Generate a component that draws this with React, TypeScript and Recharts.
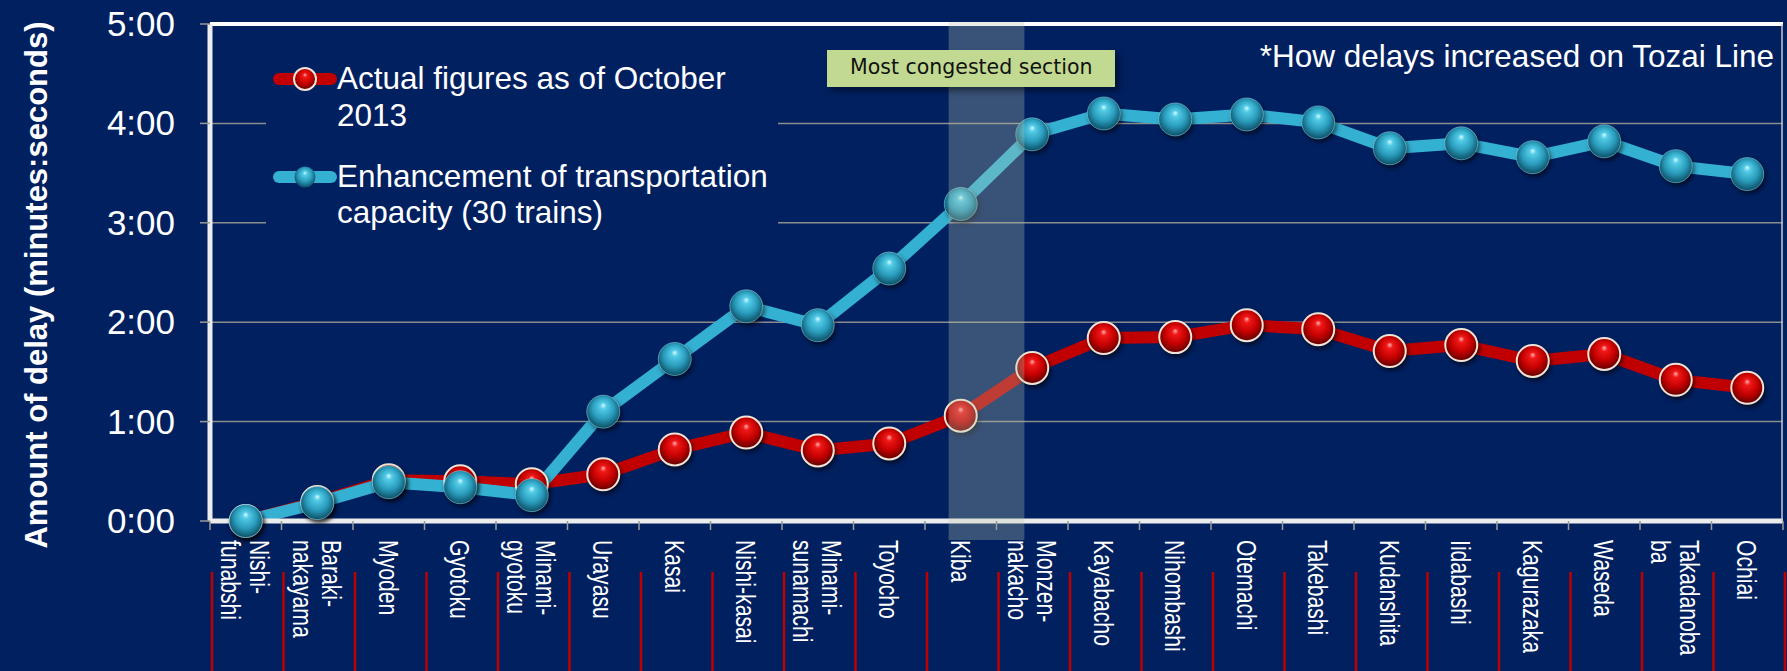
import { ComposedChart, Line, XAxis, YAxis, CartesianGrid, ReferenceArea, ReferenceLine } from "recharts"

const stations = [
  "Nishi-\nfunabshi",
  "Baraki-\nnakayama",
  "Myoden",
  "Gyotoku",
  "Minami-\ngyotoku",
  "Urayasu",
  "Kasai",
  "Nishi-kasai",
  "Minami-\nsunamachi",
  "Toyocho",
  "Kiba",
  "Monzen-\nnakacho",
  "Kayabacho",
  "Nihombashi",
  "Otemachi",
  "Takebashi",
  "Kudanshita",
  "Iidabashi",
  "Kagurazaka",
  "Waseda",
  "Takadanoba\nba",
  "Ochiai",
]

// delay in minutes
const actualDelay = [0, 0.19, 0.41, 0.4, 0.37, 0.47, 0.72, 0.89, 0.71, 0.78, 1.06, 1.54, 1.84, 1.85, 1.97, 1.93, 1.71, 1.77, 1.61, 1.68, 1.42, 1.34]
const enhancedDelay = [0, 0.18, 0.39, 0.34, 0.26, 1.1, 1.63, 2.16, 1.97, 2.54, 3.19, 3.89, 4.1, 4.04, 4.09, 4.01, 3.75, 3.8, 3.66, 3.82, 3.57, 3.49]

const yTicks = [0, 1, 2, 3, 4, 5]
const yTickLabels = ["0:00", "1:00", "2:00", "3:00", "4:00", "5:00"]

const congestedStation = "Kiba"

const data = stations.map((station, i) => ({
  station,
  actual: actualDelay[i],
  enhanced: enhancedDelay[i],
}))

const NAVY = "#002060"
const RED = "#c00000"
const BLUE = "#33b0d2"
const ARIAL = '"Liberation Sans", Arial, sans-serif'

function RedDot(props: any) {
  const { cx, cy, index } = props
  if (cx == null || cy == null) return null
  return (
    <circle
      key={`r-${index}`}
      cx={cx}
      cy={cy}
      r={16}
      fill="url(#redSphere)"
      stroke="#f1e4d6"
      strokeWidth={2}
      style={{ filter: "drop-shadow(2px 3px 2px rgba(0,0,0,0.55))" }}
    />
  )
}

function BlueDot(props: any) {
  const { cx, cy, index } = props
  if (cx == null || cy == null) return null
  return (
    <circle
      key={`b-${index}`}
      cx={cx}
      cy={cy}
      r={16.5}
      fill="url(#blueSphere)"
      stroke="rgba(160,225,240,0.5)"
      strokeWidth={1}
      style={{ filter: "drop-shadow(2px 3px 2px rgba(0,0,0,0.55))" }}
    />
  )
}

function DelayTick(props: any) {
  const { x, y, payload } = props
  const i = yTicks.indexOf(payload.value)
  return (
    <text x={x} y={y + 12} textAnchor="end" fill="#fff" fontSize={35} fontFamily={ARIAL}>
      {yTickLabels[i]}
    </text>
  )
}

function StationTick(props: any) {
  const { x, y, payload, index } = props
  const half = payload.offset || 35.75
  const lines = String(payload.value).split("\n")
  const fs = 27.5
  const capH = fs * 0.716
  const lh = 29
  const y0 = capH / 2 - ((lines.length - 1) * lh) / 2
  const last = index === stations.length - 1
  return (
    <g>
      <line x1={x - half} x2={x - half} y1={y} y2={y + 9} stroke="#9a9a9a" strokeWidth={1.5} />
      {last && <line x1={x + half} x2={x + half} y1={y} y2={y + 9} stroke="#9a9a9a" strokeWidth={1.5} />}
      <line x1={x - half + 2} x2={x - half + 2} y1={y + 51} y2={y + 150} stroke={RED} strokeWidth={2.5} />
      {last && <line x1={x + half + 2} x2={x + half + 2} y1={y + 51} y2={y + 150} stroke={RED} strokeWidth={2.5} />}
      <text
        transform={`translate(${x},${y + 19}) rotate(90) scale(0.77,1)`}
        fill="#fff"
        fontSize={fs}
        fontFamily={ARIAL}
      >
        {lines.map((l, k) => (
          <tspan key={k} x={0} y={y0 + k * lh}>
            {l}
          </tspan>
        ))}
      </text>
    </g>
  )
}

function CongestedBand(p: any) {
  return (
    <rect
      x={p.x + p.width * 0.33}
      y={p.y - 2}
      width={p.width * 1.06}
      height={p.height + 21}
      fill="rgb(190,200,175)"
      fillOpacity={0.3}
    />
  )
}

export default function App() {
  return (
    <div style={{ position: "relative", width: 1787, height: 671, background: NAVY, overflow: "hidden" }}>
      <style>{"body{margin:0}"}</style>
      <svg width={0} height={0} style={{ position: "absolute" }}>
        <defs>
          <radialGradient id="redSphere" cx="50%" cy="45%" r="55%" fx="50%" fy="30%">
            <stop offset="0%" stopColor="#ffb0b0" />
            <stop offset="18%" stopColor="#f01818" />
            <stop offset="60%" stopColor="#c40000" />
            <stop offset="100%" stopColor="#5e0000" />
          </radialGradient>
          <radialGradient id="blueSphere" cx="50%" cy="45%" r="55%" fx="50%" fy="30%">
            <stop offset="0%" stopColor="#d6f8ff" />
            <stop offset="18%" stopColor="#52cbe6" />
            <stop offset="60%" stopColor="#2a9cbc" />
            <stop offset="100%" stopColor="#0c4f66" />
          </radialGradient>
        </defs>
      </svg>
      <ComposedChart width={1787} height={671} data={data} margin={{ top: 24, right: 4, bottom: 0, left: 0 }}>
        <CartesianGrid vertical={false} stroke="#8c8c8c" strokeWidth={1.5} />
        <XAxis
          dataKey="station"
          scale="band"
          height={150}
          interval={0}
          tickSize={0}
          tickMargin={0}
          axisLine={{ stroke: "#ececec", strokeWidth: 5 }}
          tickLine={false}
          tick={<StationTick />}
        />
        <YAxis
          width={210}
          domain={[0, 5]}
          ticks={yTicks}
          tickSize={10}
          tickMargin={25}
          axisLine={{ stroke: "#ececec", strokeWidth: 5 }}
          tickLine={{ stroke: "#9a9a9a", strokeWidth: 1.5 }}
          tick={<DelayTick />}
        />
        <ReferenceLine y={5} stroke="#ffffff" strokeWidth={4} ifOverflow="visible" />
        <Line
          dataKey="actual"
          type="linear"
          stroke={RED}
          strokeWidth={12}
          strokeLinejoin="round"
          dot={<RedDot />}
          activeDot={false}
          isAnimationActive={false}
        />
        <Line
          dataKey="enhanced"
          type="linear"
          stroke={BLUE}
          strokeWidth={12}
          strokeLinejoin="round"
          dot={<BlueDot />}
          activeDot={false}
          isAnimationActive={false}
        />
        <ReferenceArea
          x1={congestedStation}
          x2={congestedStation}
          ifOverflow="visible"
          zIndex={650}
          shape={CongestedBand}
        />
      </ComposedChart>

      <svg
        width={1787}
        height={671}
        style={{ position: "absolute", left: 0, top: 0, pointerEvents: "none" }}
        fontFamily={ARIAL}
      >
        <line x1={1782} x2={1782} y1={24} y2={521} stroke="#c8c8c8" strokeWidth={1.5} />
        <text
          transform="translate(47,285) rotate(-90)"
          textAnchor="middle"
          fill="#fff"
          fontSize={31}
          fontWeight="bold"
        >
          Amount of delay (minutes:seconds)
        </text>

        <text x={1774} y={67} textAnchor="end" fill="#fff" fontSize={31.5}>
          *How delays increased on Tozai Line
        </text>

        <rect x={831} y={54} width={288} height={37} fill="rgba(0,0,0,0.45)" style={{ filter: "blur(3px)" }} />
        <rect x={827} y={50} width={288} height={37} fill="#c2d991" />
        <text x={850} y={74} fill="#111" fontSize={20.5} fontFamily='"DejaVu Sans", Verdana, sans-serif'>
          Most congested section
        </text>

        <rect x={266} y={45} width={512} height={195} fill={NAVY} />
        <line x1={279} x2={331} y1={79} y2={79} stroke={RED} strokeWidth={12} strokeLinecap="round" />
        <circle cx={305} cy={79} r={11} fill="url(#redSphere)" stroke="#f1e4d6" strokeWidth={2} />
        <text fill="#fff" fontSize={31.5}>
          <tspan x={337} y={89}>Actual figures as of October</tspan>
          <tspan x={337} y={126}>2013</tspan>
        </text>
        <line x1={279} x2={331} y1={177} y2={177} stroke={BLUE} strokeWidth={12} strokeLinecap="round" />
        <circle cx={305} cy={177} r={10.5} fill="url(#blueSphere)" />
        <text fill="#fff" fontSize={31.5}>
          <tspan x={337} y={187}>Enhancement of transportation</tspan>
          <tspan x={337} y={223}>capacity (30 trains)</tspan>
        </text>
      </svg>
    </div>
  )
}
